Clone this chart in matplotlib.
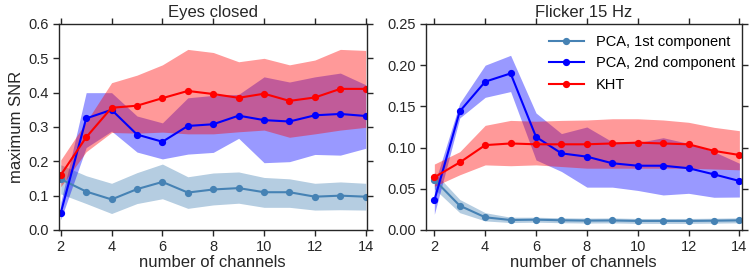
import numpy as np
import matplotlib
matplotlib.use('Agg')
import matplotlib.pyplot as plt

plt.rcParams['font.family'] = ['Liberation Sans', 'DejaVu Sans']

# number of channels
channels = np.arange(2, 15)

# ---- Eyes closed ----
ec_pca1 = [0.148, 0.112, 0.089, 0.119, 0.140, 0.109, 0.118, 0.122, 0.110, 0.110, 0.097, 0.100, 0.097]
ec_pca1_hi = [0.190, 0.158, 0.136, 0.167, 0.192, 0.155, 0.166, 0.169, 0.153, 0.149, 0.136, 0.140, 0.136]
ec_pca1_lo = [0.105, 0.077, 0.048, 0.077, 0.091, 0.063, 0.073, 0.078, 0.066, 0.066, 0.058, 0.059, 0.058]

ec_pca2 = [0.050, 0.325, 0.350, 0.278, 0.257, 0.303, 0.308, 0.333, 0.320, 0.316, 0.334, 0.338, 0.332]
ec_pca2_hi = [0.080, 0.400, 0.400, 0.332, 0.312, 0.385, 0.392, 0.395, 0.446, 0.431, 0.446, 0.457, 0.423]
ec_pca2_lo = [0.030, 0.240, 0.288, 0.227, 0.207, 0.221, 0.226, 0.267, 0.196, 0.199, 0.220, 0.218, 0.238]

ec_kht = [0.160, 0.270, 0.356, 0.362, 0.384, 0.405, 0.396, 0.385, 0.397, 0.376, 0.386, 0.411, 0.411]
ec_kht_hi = [0.204, 0.315, 0.429, 0.451, 0.481, 0.526, 0.517, 0.490, 0.500, 0.481, 0.495, 0.526, 0.523]
ec_kht_lo = [0.126, 0.228, 0.284, 0.282, 0.285, 0.280, 0.280, 0.286, 0.291, 0.270, 0.280, 0.291, 0.299]

# ---- Flicker 15 Hz ----
fl_pca1 = [0.061, 0.0295, 0.0154, 0.0121, 0.0125, 0.0118, 0.0114, 0.0116, 0.0110, 0.0110, 0.0110, 0.0113, 0.0117]
fl_pca1_hi = [0.070, 0.037, 0.021, 0.0155, 0.0155, 0.0148, 0.0144, 0.0146, 0.0140, 0.0140, 0.0140, 0.0143, 0.0147]
fl_pca1_lo = [0.050, 0.021, 0.011, 0.0090, 0.0095, 0.0088, 0.0084, 0.0086, 0.0080, 0.0080, 0.0080, 0.0083, 0.0087]

fl_pca2 = [0.036, 0.144, 0.180, 0.190, 0.113, 0.093, 0.089, 0.081, 0.078, 0.078, 0.075, 0.0675, 0.0595]
fl_pca2_hi = [0.055, 0.154, 0.200, 0.212, 0.142, 0.117, 0.125, 0.107, 0.106, 0.112, 0.105, 0.095, 0.081]
fl_pca2_lo = [0.019, 0.136, 0.161, 0.168, 0.085, 0.071, 0.052, 0.052, 0.048, 0.0425, 0.0445, 0.0397, 0.040]

fl_kht = [0.064, 0.082, 0.103, 0.105, 0.104, 0.104, 0.104, 0.105, 0.106, 0.105, 0.104, 0.096, 0.091]
fl_kht_hi = [0.080, 0.095, 0.127, 0.133, 0.132, 0.133, 0.1335, 0.135, 0.135, 0.1335, 0.1307, 0.1246, 0.1205]
fl_kht_lo = [0.053, 0.067, 0.079, 0.078, 0.079, 0.077, 0.075, 0.075, 0.075, 0.075, 0.075, 0.074, 0.073]

labels = ['PCA, 1st component', 'PCA, 2nd component', 'KHT']
colors = ['#4682b4', '#0000ff', '#ff0000']

panels = [
    ('Eyes closed', [(ec_pca1, ec_pca1_lo, ec_pca1_hi), (ec_pca2, ec_pca2_lo, ec_pca2_hi), (ec_kht, ec_kht_lo, ec_kht_hi)],
     (0, 0.6), np.arange(0, 0.61, 0.1), '{:.1f}', (1.92, 14.04)),
    ('Flicker 15 Hz', [(fl_pca1, fl_pca1_lo, fl_pca1_hi), (fl_pca2, fl_pca2_lo, fl_pca2_hi), (fl_kht, fl_kht_lo, fl_kht_hi)],
     (0, 0.25), np.arange(0, 0.251, 0.05), '{:.2f}', (1.66, 14.09)),
]

fig = plt.figure(figsize=(7.5, 2.78), dpi=100)
positions = [[0.0783, 0.1727, 0.4107, 0.741], [0.5676, 0.1727, 0.4213, 0.741]]
dark = '#262626'

for i, (title, series, ylim, yticks, fmt, xlim) in enumerate(panels):
    ax = fig.add_axes(positions[i])
    for (m, lo, hi), c, lab in zip(series, colors, labels):
        ax.fill_between(channels, lo, hi, color=c, alpha=0.4, linewidth=0)
        ax.plot(channels, m, '-o', color=c, lw=1.5, ms=4.2, label=lab)
    ax.set_xlim(*xlim)
    ax.set_ylim(*ylim)
    ax.set_xticks(np.arange(2, 15, 2))
    ax.set_yticks(yticks)
    ax.set_yticklabels([fmt.format(v) for v in yticks])
    ax.tick_params(direction='out', length=4, width=1, colors=dark, labelsize=10.5,
                   top=True, right=True, pad=3)
    for s in ax.spines.values():
        s.set_color(dark)
        s.set_linewidth(1)
    ax.set_title(title, fontsize=12, color=dark, pad=5)
    ax.set_xlabel('number of channels', fontsize=12, color=dark, labelpad=1)
    if i == 0:
        ax.set_ylabel('maximum SNR', fontsize=12, color=dark, labelpad=3)
    else:
        ax.legend(loc='upper right', frameon=False, fontsize=10.5,
                  bbox_to_anchor=(1.02, 1.01), handlelength=2.4, labelspacing=0.5,
                  handletextpad=0.8)

fig.savefig('out.png', dpi=100)
